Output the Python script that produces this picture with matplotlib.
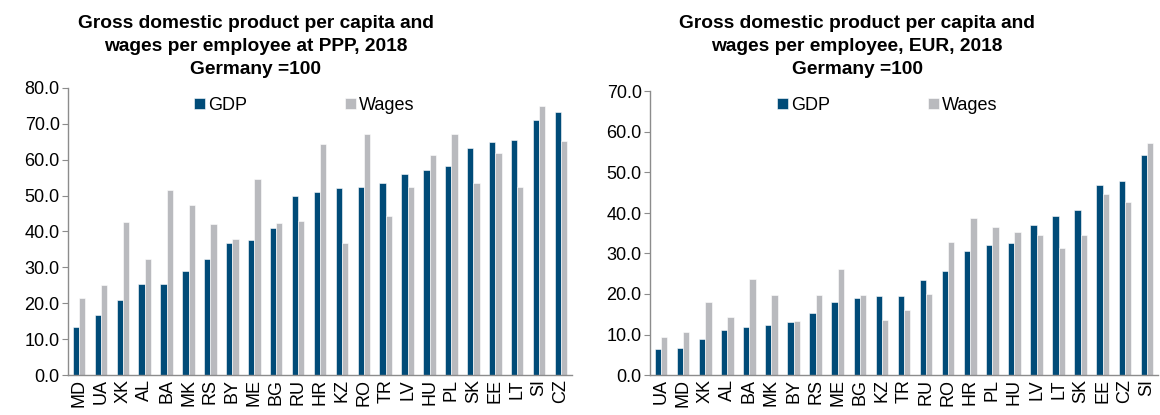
import numpy as np
import matplotlib
matplotlib.use("Agg")
import matplotlib.pyplot as plt
from matplotlib.ticker import FormatStrFormatter

plt.rcParams['font.family'] = ['Liberation Sans', 'DejaVu Sans']

# PPP, 2018 (Germany = 100)
ppp_countries = ['MD', 'UA', 'XK', 'AL', 'BA', 'MK', 'RS', 'BY', 'ME', 'BG', 'RU', 'HR',
                 'KZ', 'RO', 'TR', 'LV', 'HU', 'PL', 'SK', 'EE', 'LT', 'SI', 'CZ']
ppp_gdp = [13.3, 16.7, 20.9, 25.4, 25.4, 29.0, 32.3, 36.9, 37.5, 41.0, 49.9, 51.0,
           52.1, 52.4, 53.6, 56.0, 57.1, 58.3, 63.3, 65.0, 65.5, 71.2, 73.3]
ppp_wages = [21.4, 25.0, 42.6, 32.3, 51.6, 47.3, 42.2, 37.8, 54.6, 42.3, 42.8, 64.5,
             36.8, 67.2, 44.3, 52.5, 61.4, 67.2, 53.6, 62.0, 52.3, 75.0, 65.3]

# EUR, 2018 (Germany = 100)
eur_countries = ['UA', 'MD', 'XK', 'AL', 'BA', 'MK', 'BY', 'RS', 'ME', 'BG', 'KZ', 'TR',
                 'RU', 'RO', 'HR', 'PL', 'HU', 'LV', 'LT', 'SK', 'EE', 'CZ', 'SI']
eur_gdp = [6.3, 6.6, 8.8, 11.2, 11.8, 12.3, 13.0, 15.2, 18.1, 19.1, 19.4, 19.6,
           23.5, 25.7, 30.6, 32.0, 32.7, 37.0, 39.3, 40.8, 46.9, 47.9, 54.2]
eur_wages = [9.3, 10.7, 18.0, 14.4, 23.6, 19.7, 13.4, 19.8, 26.2, 19.8, 13.7, 16.0,
             20.0, 32.8, 38.8, 36.5, 35.3, 34.5, 31.4, 34.5, 44.7, 42.6, 57.4]

GDP_COLOR = '#004b78'
WAGE_COLOR = '#b9babe'
SPINE = '#8c8c8c'
FS = 13


def draw(ax, cats, gdp, wages, ymax):
    x = np.arange(len(cats))
    w = 0.285
    ax.bar(x - w / 2, gdp, w, color=GDP_COLOR, edgecolor='white', linewidth=0.4, label='GDP')
    ax.bar(x + w / 2, wages, w, color=WAGE_COLOR, edgecolor='white', linewidth=0.4, label='Wages')
    ax.set_xlim(-0.5, len(cats) - 0.5)
    ax.set_ylim(0, ymax)
    ax.set_yticks(np.arange(0, ymax + 1, 10))
    ax.yaxis.set_major_formatter(FormatStrFormatter('%.1f'))
    ax.set_xticks(x)
    ax.set_xticklabels(cats, rotation=90, fontsize=FS)
    ax.tick_params(axis='y', labelsize=FS, length=4, color=SPINE, pad=2)
    ax.tick_params(axis='x', length=0, pad=3)
    for s in ['top', 'right']:
        ax.spines[s].set_visible(False)
    for s in ['left', 'bottom']:
        ax.spines[s].set_color(SPINE)
        ax.spines[s].set_linewidth(1.0)
    leg = ax.legend(ncol=2, loc='upper left', frameon=False, fontsize=FS,
                    handlelength=0.6, handleheight=0.6, handletextpad=0.2,
                    columnspacing=5.4, borderpad=0, borderaxespad=0)
    return leg


fig = plt.figure(figsize=(11.6, 4.15), dpi=100)
ax1 = fig.add_axes([68 / 1160, 40 / 415, 504 / 1160, 287 / 415])
ax2 = fig.add_axes([650 / 1160, 40 / 415, 508 / 1160, 283.5 / 415])

leg1 = draw(ax1, ppp_countries, ppp_gdp, ppp_wages, 80)
leg1.set_bbox_to_anchor((194 / 1160, 1 - 97 / 415), transform=fig.transFigure)
leg2 = draw(ax2, eur_countries, eur_gdp, eur_wages, 70)
leg2.set_bbox_to_anchor((777 / 1160, 1 - 97 / 415), transform=fig.transFigure)

fig.text(256 / 1160, 1 - 46.5 / 415,
         'Gross domestic product per capita and\nwages per employee at PPP, 2018\nGermany =100',
         ha='center', va='center', fontsize=13.8, fontweight='bold', linespacing=1.45)
fig.text(857 / 1160, 1 - 46.5 / 415,
         'Gross domestic product per capita and\nwages per employee, EUR, 2018\nGermany =100',
         ha='center', va='center', fontsize=13.8, fontweight='bold', linespacing=1.45)

fig.savefig('out.png', dpi=100)
